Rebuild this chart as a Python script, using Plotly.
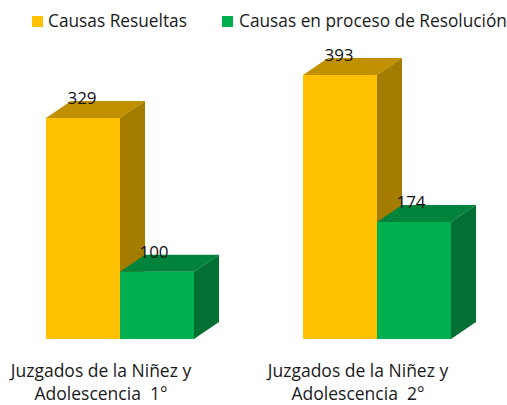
import plotly.graph_objects as go

groups = ["Juzgados de la Niñez y<br>Adolescencia  1°", "Juzgados de la Niñez y<br>Adolescencia  2°"]
series_names = ["Causas Resueltas", "Causas en proceso de Resolución"]
resueltas = [329, 393]
en_proceso = [100, 174]
series_colors = ["#FFC000", "#00B050"]

W, H = 507, 405
BOTTOM = 339
PX_PER_UNIT = 0.672
PX_PER_GROUP = 257
G0 = 120
BAR_W = 74 / PX_PER_GROUP
DX = 25 / PX_PER_GROUP
DY = 17 / PX_PER_UNIT
LABEL_DY = 18 / PX_PER_UNIT
XR = [-G0 / PX_PER_GROUP, (W - G0) / PX_PER_GROUP]
YR = [0, BOTTOM / PX_PER_UNIT]
FONT = "Open Sans"
TXT = "#1a1a1a"


def faces(i, offset, v, color_top, color_side, xa, ya):
    l = i + offset - BAR_W / 2
    r = i + offset + BAR_W / 2
    top = go.Scatter(x=[l, r, r + DX, l + DX, l], y=[v, v, v + DY, v + DY, v], fill="toself",
                     fillcolor=color_top, mode="lines", line=dict(width=0), hoverinfo="skip",
                     showlegend=False, xaxis=xa, yaxis=ya)
    side = go.Scatter(x=[r, r + DX, r + DX, r, r], y=[0, DY, v + DY, v, 0], fill="toself",
                      fillcolor=color_side, mode="lines", line=dict(width=0), hoverinfo="skip",
                      showlegend=False, xaxis=xa, yaxis=ya)
    return [top, side]


fig = go.Figure()
idx = list(range(len(groups)))
fig.add_trace(go.Bar(x=[i - BAR_W / 2 for i in idx], y=resueltas, width=BAR_W, name=series_names[0],
                     marker=dict(color=series_colors[0], line=dict(width=0)), xaxis="x", yaxis="y"))
for i, v in zip(idx, resueltas):
    for t in faces(i, -BAR_W / 2, v, "#C09000", "#A47C00", "x", "y"):
        fig.add_trace(t)
fig.add_trace(go.Bar(x=[i + BAR_W / 2 for i in idx], y=en_proceso, width=BAR_W, name=series_names[1],
                     marker=dict(color=series_colors[1], line=dict(width=0)), xaxis="x2", yaxis="y2"))
for i, v in zip(idx, en_proceso):
    for t in faces(i, BAR_W / 2, v, "#00843C", "#007033", "x2", "y2"):
        fig.add_trace(t)
fig.add_trace(go.Scatter(
    x=[i - BAR_W / 2 - 1 / PX_PER_GROUP for i in idx] + [i + BAR_W / 2 - 3 / PX_PER_GROUP for i in idx],
    y=[v + LABEL_DY for v in resueltas] + [v + LABEL_DY for v in en_proceso],
    text=[str(v) for v in resueltas + en_proceso], mode="text", textposition="middle center",
    textfont=dict(family=FONT, size=17, color="#111111"), showlegend=False, hoverinfo="skip",
    xaxis="x2", yaxis="y2"))

LEGEND_SWATCH_X = [32, 222]
LEGEND_TEXT_X = [47, 238]
LEGEND_Y = 21
shapes, annotations = [], []
for name, color, sx, tx in zip(series_names, series_colors, LEGEND_SWATCH_X, LEGEND_TEXT_X):
    shapes.append(dict(type="rect", xref="paper", yref="paper", layer="above",
                       x0=sx / W, x1=(sx + 11) / W,
                       y0=1 - (LEGEND_Y + 6) / BOTTOM, y1=1 - (LEGEND_Y - 5) / BOTTOM,
                       fillcolor=color, line=dict(width=0)))
    annotations.append(dict(text=name, xref="paper", yref="paper", x=tx / W, y=1 - LEGEND_Y / BOTTOM,
                            xanchor="left", yanchor="middle", showarrow=False, borderpad=0,
                            font=dict(family=FONT, size=17.3, color=TXT)))

fig.update_layout(
    width=W, height=H, autosize=False, paper_bgcolor="white", plot_bgcolor="rgba(0,0,0,0)",
    margin=dict(l=0, r=0, t=0, b=H - BOTTOM, autoexpand=False), barmode="overlay", showlegend=False,
    font=dict(family=FONT, size=17, color=TXT), shapes=shapes, annotations=annotations,
    xaxis=dict(range=XR, tickvals=[i - 19 / PX_PER_GROUP for i in idx], ticktext=groups,
               ticks="outside", ticklen=16, tickcolor="rgba(0,0,0,0)", showgrid=False, automargin=False,
               zeroline=False, showline=False, tickfont=dict(family=FONT, size=17.5, color=TXT)),
    yaxis=dict(range=YR, visible=False),
    xaxis2=dict(range=XR, overlaying="x", visible=False),
    yaxis2=dict(range=YR, overlaying="y", visible=False),
)
fig.write_html("out.html", config=dict(displayModeBar=False),
               post_script="document.body.style.margin='0';window.dispatchEvent(new Event('resize'));")
